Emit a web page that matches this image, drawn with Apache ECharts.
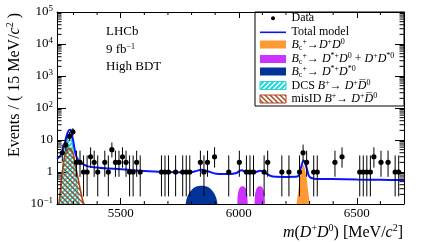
<!DOCTYPE html>
<html><head><meta charset="utf-8">
<script src="https://cdn.jsdelivr.net/npm/echarts@6/dist/echarts.min.js"></script>
<style>html,body{margin:0;padding:0;background:#fff}#c{width:425px;height:242px}</style>
</head><body><div id="c"></div>
<script>
const FONT = '"Liberation Serif","DejaVu Serif","Times New Roman",serif';

// ---- data (15 MeV bins) ----
const dataMass = [5252.5,5267.5,5282.5,5297.5,5312.5,5327.5,5342.5,5357.5,5372.5,5387.5,5402.5,5432.5,5447.5,5462.5,5477.5,5492.5,5507.5,5522.5,5537.5,5552.5,5567.5,5582.5,5672.5,5687.5,5702.5,5732.5,5762.5,5777.5,5792.5,5837.5,5852.5,5867.5,5897.5,5957.5,6002.5,6032.5,6047.5,6062.5,6107.5,6122.5,6182.5,6212.5,6257.5,6272.5,6287.5,6317.5,6332.5,6407.5,6437.5,6512.5,6527.5,6542.5,6557.5,6572.5,6602.5,6632.5,6662.5,6677.5];
const dataCount = [4,7,13,18,2,2,1,1,3,2,1,2,1,5,2,2,3,2,1,1,2,1,1,1,1,1,1,1,1,2,1,2,3,1,2,1,1,1,1,2,1,1,1,4,2,1,1,2,3,1,1,1,1,3,2,2,1,1];
// Poisson 68.3% intervals per count
const poisLo = {1:0.173,2:0.708,3:1.367,4:2.086,5:2.840,7:4.419,13:9.45,18:13.80};
const poisHi = {1:3.300,2:4.638,3:5.918,4:7.163,5:8.382,7:10.77,13:17.69,18:23.32};

// ---- fit curves [mass, value] ----
const totalModel = [[5230,2.6],[5240,3.0],[5248,3.6],[5256,5.0],[5263,8.0],[5270,13],[5277,18.5],[5286,21],[5292,16],[5298,10],[5304,5.5],[5310,3.4],[5318,2.5],[5326,2.1],[5340,1.75],[5361,1.5],[5400,1.38],[5432,1.3],[5503,1.22],[5580,1.1],[5665,1.02],[5740,0.98],[5790,0.97],[5815,1.05],[5842,1.18],[5870,1.05],[5905,0.88],[5962,0.86],[5990,0.93],[6011,1.13],[6030,1.0],[6047,0.91],[6070,0.98],[6092,1.1],[6115,0.9],[6145,0.72],[6200,0.7],[6248,0.72],[6262,1.3],[6275,2.3],[6288,1.3],[6300,0.7],[6320,0.62],[6400,0.6],[6500,0.58],[6600,0.57],[6700,0.56]];
const bcDD = [[6245,0.1],[6252,0.25],[6258,0.6],[6263,1.0],[6268,1.45],[6273,1.7],[6278,1.45],[6283,1.0],[6288,0.6],[6294,0.25],[6301,0.1]];
const bcDstD1 = [[5994,0.1],[5996,0.2],[5999,0.26],[6004,0.32],[6010,0.355],[6016,0.36],[6022,0.355],[6028,0.32],[6033,0.26],[6036,0.2],[6038,0.1]];
const bcDstD2 = [[6067,0.1],[6069,0.2],[6072,0.26],[6077,0.32],[6083,0.355],[6089,0.36],[6095,0.355],[6101,0.32],[6106,0.26],[6109,0.2],[6111,0.1]];
const bcDstDst = [[5775,0.1],[5780,0.15],[5790,0.22],[5805,0.3],[5820,0.35],[5842,0.37],[5865,0.35],[5880,0.3],[5895,0.22],[5905,0.15],[5910,0.1]];
const dcsB = [[5240,0.1],[5246,0.3],[5252,0.9],[5258,2.2],[5264,4.5],[5270,7.5],[5277,11.5],[5284,14],[5290,11],[5297,5.5],[5303,2.2],[5309,0.8],[5316,0.3],[5322,0.12],[5326,0.1]];
const misIdB = [[5238,0.1],[5241,0.15],[5248,0.5],[5255,1.4],[5262,2.8],[5270,4.3],[5277,5.3],[5284,5.5],[5291,4.8],[5298,3.8],[5305,2.2],[5312,1.15],[5319,0.65],[5326,0.35],[5333,0.2],[5340,0.12],[5345,0.1]];

const xTickLabels = [5500, 6000, 6500];
const X_MIN = 5230, X_MAX = 6700, Y_MIN = 0.1, Y_MAX = 1e5;

const legendLabels = [
  'Data',
  'Total model',
  '{i|B}{sb|c}{sp|+}→{i|D}{sp|+}{i|D}{sp|0}',
  '{i|B}{sb|c}{sp|+}→ {i|D}{sp|*+}{i|D}{sp|0} + {i|D}{sp|+}{i|D}{sp|*0}',
  '{i|B}{sb|c}{sp|+}→ {i|D}{sp|*+}{i|D}{sp|*0}',
  'DCS {i|B}{sp|+}→ {i|D}{sp|+}{i|D\u0305}{sp|0}',
  'misID {i|B}{sp|+}→ {i|D}{sp|+}{i|D\u0305}{sp|0}'
];

const COL = {total:'#0a14ff', orange:'#ff9933', purple:'#cc33ff', navy:'#023399', cyan:'#1fd8d8', brown:'#a8441a'};

function hatch(color, dir, lw) {
  const s = 5, c = document.createElement('canvas');
  c.width = s; c.height = s;
  const g = c.getContext('2d');
  g.strokeStyle = color; g.lineWidth = lw;
  g.beginPath();
  if (dir > 0) {
    g.moveTo(-1, s + 1); g.lineTo(s + 1, -1);
    g.moveTo(-1, 1); g.lineTo(1, -1);
    g.moveTo(s - 1, s + 1); g.lineTo(s + 1, s - 1);
  } else {
    g.moveTo(-1, -1); g.lineTo(s + 1, s + 1);
    g.moveTo(s - 1, -1); g.lineTo(s + 1, 1);
    g.moveTo(-1, s - 1); g.lineTo(1, s + 1);
  }
  g.stroke();
  return c;
}
const cyanPat = {image: hatch(COL.cyan, 1, 2.0), repeat: 'repeat'};
const brownPat = {image: hatch(COL.brown, -1, 1.4), repeat: 'repeat'};

const yMinor = [];
for (let e = -1; e <= 4; e++) for (let m = 2; m <= 9; m++) yMinor.push(m * Math.pow(10, e));
const xMinor = [];
for (let v = 5300; v < X_MAX; v += 100) if (v % 500 !== 0) xMinor.push(v);

const richBase = {
  i: {fontStyle: 'italic', fontFamily: FONT, fontSize: 12, lineHeight: 14},
  sp: {fontFamily: FONT, fontSize: 8, lineHeight: 8, verticalAlign: 'top'},
  sb: {fontFamily: FONT, fontSize: 8, lineHeight: 8, verticalAlign: 'bottom'}
};

function area(name, data, color, z) {
  return {type: 'line', name, data, smooth: 0.3, symbol: 'none', silent: true, z,
    lineStyle: {width: 0, opacity: 0}, areaStyle: {color, opacity: 1, origin: 'start'}};
}

const xCommon = {type: 'value', min: X_MIN, max: X_MAX, splitNumber: 3, minInterval: 500, maxInterval: 500,
  splitLine: {show: false},
  axisLine: {show: true, onZero: false, lineStyle: {color: '#000', width: 1}},
  axisTick: {show: true, inside: true, length: 6, lineStyle: {color: '#000', width: 1}}};
const yCommon = {type: 'log', logBase: 10, min: Y_MIN, max: Y_MAX,
  splitLine: {show: false},
  axisLine: {show: true, onZero: false, lineStyle: {color: '#000', width: 1}},
  axisTick: {show: true, inside: true, length: 9, lineStyle: {color: '#000', width: 1}}};

const legendY = [18.3, 32.3, 44.5, 59, 71.5, 85.5, 99];
const LX = 260, LW = 26, LH = 8, TX = 291.5;
const legendGraphics = [
  {type: 'rect', shape: {x: 255, y: 12, width: 149, height: 94}, style: {fill: '#fff', stroke: '#000', lineWidth: 1}},
  {type: 'circle', shape: {cx: LX + LW / 2, cy: legendY[0], r: 2}, style: {fill: '#000'}},
  {type: 'line', shape: {x1: LX, y1: legendY[1], x2: LX + LW, y2: legendY[1]}, style: {stroke: COL.total, lineWidth: 1.6}},
  {type: 'rect', shape: {x: LX, y: legendY[2] - LH / 2, width: LW, height: LH}, style: {fill: COL.orange}},
  {type: 'rect', shape: {x: LX, y: legendY[3] - LH / 2, width: LW, height: LH}, style: {fill: COL.purple}},
  {type: 'rect', shape: {x: LX, y: legendY[4] - LH / 2, width: LW, height: LH}, style: {fill: COL.navy}},
  {type: 'rect', shape: {x: LX, y: legendY[5] - LH / 2, width: LW, height: LH}, style: {fill: cyanPat, stroke: COL.cyan, lineWidth: 1}},
  {type: 'rect', shape: {x: LX, y: legendY[6] - LH / 2, width: LW, height: LH}, style: {fill: brownPat, stroke: COL.brown, lineWidth: 1}}
];
legendLabels.forEach((t, k) => legendGraphics.push({type: 'text', x: TX, y: legendY[k],
  style: {text: t, fontFamily: FONT, fontSize: 12, fill: '#000', align: 'left', verticalAlign: 'middle', rich: richBase}}));

const T = (x, y, text, size, align, rotation) => ({type: 'text', x, y, z: 200, rotation: rotation || 0,
  style: {text, fontFamily: FONT, fontSize: size, fill: '#000', align: align || 'left', verticalAlign: 'middle',
    rich: {i: {fontStyle: 'italic', fontFamily: FONT, fontSize: size, lineHeight: size + 3},
           sp: {fontFamily: FONT, fontSize: Math.round(size * 0.65), lineHeight: Math.round(size * 0.65), verticalAlign: 'top'}}}});

const option = {
  animation: false,
  backgroundColor: '#fff',
  grid: {left: 57, right: 21, top: 12, bottom: 38, containLabel: false},
  xAxis: [
    Object.assign({}, xCommon, {position: 'bottom', axisLabel: {show: true, margin: 3, fontFamily: FONT, fontSize: 13, color: '#000',
      formatter: v => xTickLabels.indexOf(v) >= 0 ? String(v) : ''}}),
    Object.assign({}, xCommon, {position: 'top', axisLabel: {show: false}})
  ],
  yAxis: [
    Object.assign({}, yCommon, {position: 'left', axisLabel: {show: true, margin: 4, color: '#000',
      formatter: v => { const e = Math.round(Math.log10(v)); if (e === 0) return '{n|1}'; if (e === 1) return '{n|10}'; return '{n|10}{s|' + (e < 0 ? '−' : '') + Math.abs(e) + '}'; },
      rich: {n: {fontFamily: FONT, fontSize: 13, lineHeight: 16, color: '#000'}, s: {fontFamily: FONT, fontSize: 9, lineHeight: 9, verticalAlign: 'top', color: '#000'}}}}),
    Object.assign({}, yCommon, {position: 'right', axisLabel: {show: false}})
  ],
  series: [
    area('Bc DstDst', bcDstDst, COL.navy, 2),
    area('Bc DstD a', bcDstD1, COL.purple, 2),
    area('Bc DstD b', bcDstD2, COL.purple, 2),
    area('Bc DD', bcDD, COL.orange, 2),
    {type: 'line', name: 'DCS', data: dcsB, smooth: 0.3, symbol: 'none', silent: true, z: 3,
      lineStyle: {color: COL.cyan, width: 1.2}, areaStyle: {color: cyanPat, opacity: 1, origin: 'start'}},
    {type: 'line', name: 'misID', data: misIdB, smooth: 0.3, symbol: 'none', silent: true, z: 4,
      lineStyle: {color: COL.brown, width: 1.6}, areaStyle: {color: brownPat, opacity: 1, origin: 'start'}},
    {type: 'line', name: 'Total model', data: totalModel, smooth: 0.35, symbol: 'none', silent: true, z: 5,
      lineStyle: {color: COL.total, width: 2}},
    {type: 'custom', name: 'Data', silent: true, z: 6,
      data: dataMass.map((m, k) => [m, dataCount[k], poisLo[dataCount[k]], poisHi[dataCount[k]]]),
      encode: {x: 0, y: 1},
      renderItem: (p, api) => {
        const m = api.value(0);
        const c = api.coord([m, api.value(1)]);
        const a = api.coord([m, api.value(2)]), b = api.coord([m, api.value(3)]);
        return {type: 'group', children: [
          {type: 'line', shape: {x1: a[0], y1: a[1], x2: b[0], y2: b[1]}, style: {stroke: '#000', lineWidth: 1}},
          {type: 'circle', shape: {cx: c[0], cy: c[1], r: 2.6}, style: {fill: '#000'}}
        ]};
      }},
    {type: 'custom', name: 'yMinorTicks', silent: true, z: 7,
      data: yMinor.map(v => [X_MIN, v]), encode: {x: 0, y: 1},
      renderItem: (p, api) => {
        const v = api.value(1);
        const a = api.coord([X_MIN, v]), b = api.coord([X_MAX, v]);
        return {type: 'group', children: [
          {type: 'line', shape: {x1: a[0], y1: a[1], x2: a[0] + 4.5, y2: a[1]}, style: {stroke: '#000', lineWidth: 1}},
          {type: 'line', shape: {x1: b[0], y1: b[1], x2: b[0] - 4.5, y2: b[1]}, style: {stroke: '#000', lineWidth: 1}}
        ]};
      }},
    {type: 'custom', name: 'xMinorTicks', silent: true, z: 7,
      data: xMinor.map(v => [v, Y_MIN]), encode: {x: 0, y: 1},
      renderItem: (p, api) => {
        const v = api.value(0);
        const a = api.coord([v, Y_MIN]), b = api.coord([v, Y_MAX]);
        return {type: 'group', children: [
          {type: 'line', shape: {x1: a[0], y1: a[1], x2: a[0], y2: a[1] - 3}, style: {stroke: '#000', lineWidth: 1}},
          {type: 'line', shape: {x1: b[0], y1: b[1], x2: b[0], y2: b[1] + 3}, style: {stroke: '#000', lineWidth: 1}}
        ]};
      }}
  ],
  graphic: [
    {type: 'group', z: 100, children: legendGraphics},
    T(106, 31.5, 'LHCb', 13),
    T(106, 49.5, '9 fb{sp|−1}', 13),
    T(106, 67, 'High BDT', 13),
    T(403, 233, '{i|m}({i|D}{sp|+}{i|D}{sp|0}) [MeV/{i|c}{sp|2}]', 16, 'right'),
    T(15, 85, 'Events / ( 15 MeV/{i|c}{sp|2} )', 16, 'center', Math.PI / 2)
  ]
};

const chart = echarts.init(document.getElementById('c'), null, {renderer: 'canvas'});
chart.setOption(option);
</script>
</body></html>
